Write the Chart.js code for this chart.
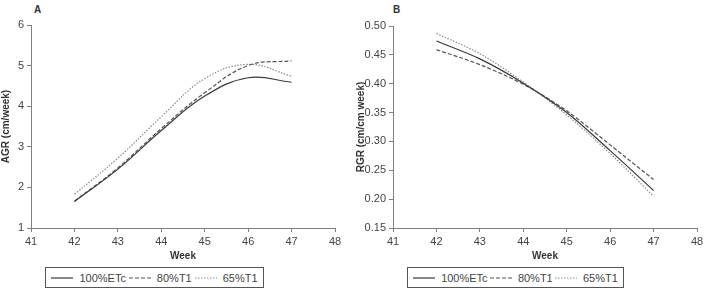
<!DOCTYPE html>
<html>
<head>
<meta charset="utf-8">
<script src="https://cdn.jsdelivr.net/npm/chart.js@4"></script>
<style>
  body { margin: 0; background: #fff; width: 709px; height: 292px; position: relative; overflow: hidden; }
  .panel { position: absolute; top: 0; height: 262px; }
  .tag { position: absolute; top: 4px; font: bold 10px "Liberation Sans", Arial, sans-serif; color: #333; }
  .legend { position: absolute; top: 267px; height: 21px; border: 1px solid #555; box-sizing: border-box;
            display: flex; align-items: center; justify-content: space-around; padding: 0 4px;
            font: 11px "Liberation Sans", Arial, sans-serif; color: #444; }
  .legend span { display: inline-flex; align-items: center; }
  .legend svg { margin-right: 6px; }
</style>
</head>
<body>
<div class="tag" style="left:34px">A</div>
<div class="tag" style="left:393px">B</div>
<div class="panel" style="left:0;width:350px"><canvas id="agr-chart"></canvas></div>
<div class="panel" style="left:355px;width:354px"><canvas id="rgr-chart"></canvas></div>
<div class="legend" id="agr-legend" style="left:45px;width:219px"></div>
<div class="legend" id="rgr-legend" style="left:407px;width:217px"></div>
<script>
const weeks = [42, 43, 44, 45, 46, 47];
const seriesNames = ["100%ETc", "80%T1", "65%T1"];

const agr100 = [1.65, 2.45, 3.40, 4.25, 4.70, 4.59];
const agr80 = [1.66, 2.48, 3.45, 4.33, 5.00, 5.12];
const agr65 = [1.83, 2.72, 3.74, 4.68, 5.03, 4.74];

const rgr100 = [0.474, 0.443, 0.401, 0.350, 0.284, 0.215];
const rgr80 = [0.459, 0.433, 0.399, 0.353, 0.294, 0.234];
const rgr65 = [0.487, 0.452, 0.403, 0.346, 0.279, 0.205];

const agrTicks = [1, 2, 3, 4, 5, 6];
const rgrTicks = [0.15, 0.20, 0.25, 0.30, 0.35, 0.40, 0.45, 0.50];

const lineStyles = [
  { color: "#3a3a3a", dash: [] },
  { color: "#555555", dash: [4, 2] },
  { color: "#8a8a8a", dash: [1.5, 1.5] }
];

const fontFamily = '"Liberation Sans", Arial, sans-serif';
const axisColor = "#808080";

function toPoints(values) {
  return weeks.map((week, i) => ({ x: week, y: values[i] }));
}

function buildDatasets(seriesValues, smoothing) {
  return seriesValues.map((values, i) => ({
    label: seriesNames[i],
    data: toPoints(values),
    borderColor: lineStyles[i].color,
    borderDash: lineStyles[i].dash,
    borderWidth: 1.2,
    pointRadius: 0,
    fill: false,
    ...smoothing
  }));
}

function makeChart(canvasId, seriesValues, smoothing, yTitle, yOpts, yWidth, padTop, padRight) {
  return new Chart(document.getElementById(canvasId), {
    type: "line",
    data: { datasets: buildDatasets(seriesValues, smoothing) },
    options: {
      responsive: true,
      maintainAspectRatio: false,
      animation: false,
      layout: { padding: { top: padTop, right: padRight, left: 0, bottom: 0 } },
      plugins: { legend: { display: false }, tooltip: { enabled: false } },
      scales: {
        x: {
          type: "linear",
          min: 41,
          max: 48,
          afterFit: (scale) => { scale.height = 34; },
          ticks: { stepSize: 1, padding: 3, color: "#444", font: { family: fontFamily, size: 11 } },
          grid: { drawOnChartArea: false, tickLength: 4, color: axisColor },
          border: { color: axisColor },
          title: { display: true, text: "Week", color: "#333", padding: 0, font: { family: fontFamily, size: 10, weight: "bold" } }
        },
        y: {
          min: yOpts.min,
          max: yOpts.max,
          afterFit: (scale) => { scale.width = yWidth; },
          afterBuildTicks: (scale) => {
            scale.ticks = yOpts.ticks.map((v) => ({ value: v }));
          },
          ticks: {
            padding: 3,
            color: "#444",
            font: { family: fontFamily, size: 11 },
            callback: (v) => v.toFixed(yOpts.decimals)
          },
          grid: { drawOnChartArea: false, tickLength: 4, color: axisColor },
          border: { color: axisColor },
          title: { display: true, text: yTitle, color: "#333", padding: 0, font: { family: fontFamily, size: 10, weight: "bold" } }
        }
      }
    }
  });
}

function buildLegend(el) {
  seriesNames.forEach((name, i) => {
    const item = document.createElement("span");
    const style = lineStyles[i];
    item.innerHTML =
      `<svg width="22" height="4"><line x1="0" y1="2" x2="22" y2="2" stroke="${style.color}" stroke-width="1.2" stroke-dasharray="${style.dash.join(",")}"/></svg>`;
    item.append(document.createTextNode(name));
    el.append(item);
  });
}

makeChart("agr-chart", [agr100, agr80, agr65], { tension: 0.4 }, "AGR (cm/week)",
  { min: 1, max: 6, ticks: agrTicks, decimals: 0 }, 31, 25, 15);
makeChart("rgr-chart", [rgr100, rgr80, rgr65], { cubicInterpolationMode: "monotone" }, "RGR (cm/cm week)",
  { min: 0.15, max: 0.5, ticks: rgrTicks, decimals: 2 }, 38, 26, 12);

buildLegend(document.getElementById("agr-legend"));
buildLegend(document.getElementById("rgr-legend"));
</script>
</body>
</html>
